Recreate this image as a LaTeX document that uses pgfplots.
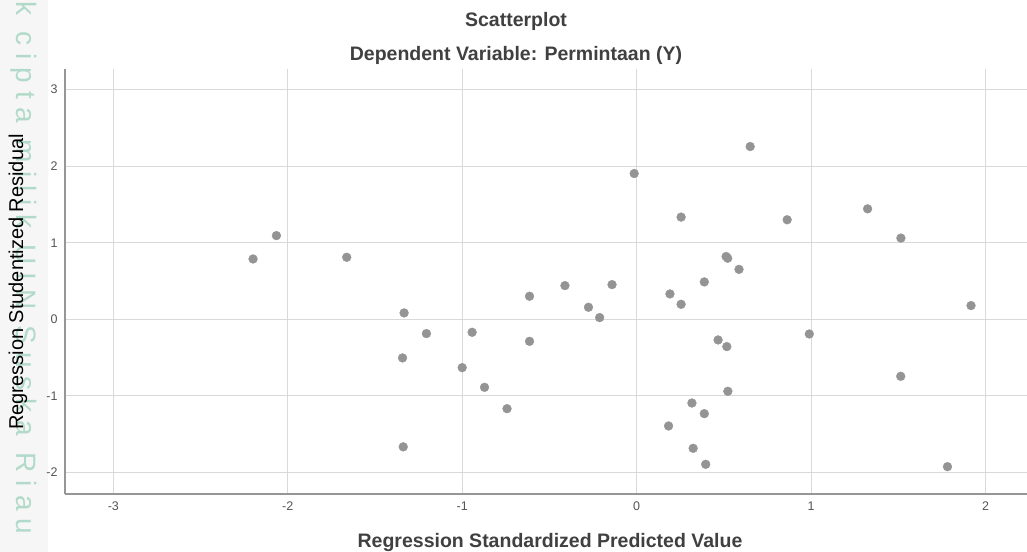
\documentclass[border=0pt]{standalone}
\usepackage{fontspec}
\setmainfont{Liberation Sans}
\newfontfamily\wmfont[LetterSpace=29.5]{Liberation Sans}
\usepackage{pgfplots}
\usepackage{pgfplotstable}
\pgfplotsset{compat=1.18}
\definecolor{gridc}{RGB}{217,217,217}
\definecolor{axc}{RGB}{150,150,150}
\definecolor{ptc}{RGB}{148,148,148}
\definecolor{titc}{RGB}{64,64,64}
\definecolor{tickc}{RGB}{85,85,85}
\definecolor{wmc}{RGB}{178,218,202}
\definecolor{stripc}{RGB}{246,246,246}

\pgfplotstableread{
x y
-2.199 0.788
-2.065 1.093
-1.662 0.810
-1.333 0.083
-1.205 -0.187
-0.943 -0.170
-1.342 -0.505
-1.000 -0.632
-0.872 -0.889
-1.338 -1.667
-0.743 -1.168
-0.614 0.301
-0.411 0.440
-0.141 0.453
-0.276 0.157
-0.212 0.022
-0.614 -0.288
-0.014 1.904
0.651 2.257
0.255 1.335
0.863 1.300
1.324 1.443
1.515 1.061
0.513 0.820
0.522 0.798
0.587 0.652
0.388 0.488
0.191 0.331
0.255 0.196
1.917 0.179
0.990 -0.192
0.467 -0.270
0.517 -0.357
1.514 -0.745
0.523 -0.941
0.317 -1.094
0.388 -1.233
0.183 -1.394
0.324 -1.686
0.396 -1.895
1.782 -1.926
}\datatab

\begin{document}
\begin{tikzpicture}[x=1bp,y=1bp]
\path[use as bounding box] (0,0) rectangle (1027,-552);
\fill[white] (0,0) rectangle (1027,-552);
\fill[stripc] (0,0) rectangle (48,-552);
\node[text=wmc, rotate=-90, anchor=west, inner sep=0pt,
      font=\wmfont\fontsize{28bp}{30bp}\selectfont] at (24,-1) {k cipta milik UIN Suska Riau};
\begin{axis}[
  at={(65bp,-494bp)}, anchor=south west,
  scale only axis, width=962bp, height=425bp,
  xmin=-3.277, xmax=2.238, ymin=-2.283, ymax=3.27,
  xtick={-3,-2,-1,0,1,2}, ytick={-2,-1,0,1,2,3},
  grid=major, major grid style={draw=gridc, line width=1bp},
  axis x line*=bottom, axis y line*=left,
  axis line style={draw=axc, line width=1.2bp, -},
  major tick length=0pt,
  tick label style={font=\fontsize{12.5bp}{14bp}\selectfont, text=tickc},
  xticklabel style={yshift=-4bp}, yticklabel style={xshift=-4bp},
  /pgf/number format/assume math mode=true,
]
\addplot[only marks, mark=*, mark size=4.4bp, color=ptc, mark options={draw=ptc, fill=ptc}] table[x=x,y=y]{\datatab};
\end{axis}
\node[anchor=base, text=titc, font=\bfseries\fontsize{19.5bp}{22bp}\selectfont] at (516,-26.7) {Scatterplot};
\node[anchor=base, text=titc, font=\bfseries\fontsize{19.5bp}{22bp}\selectfont] at (516,-60.7) {Dependent Variable: Permintaan (Y)};
\node[anchor=base, text=titc, font=\bfseries\fontsize{19.5bp}{22bp}\selectfont] at (550,-547) {Regression Standardized Predicted Value};
\node[rotate=90, text=black, font=\fontsize{20bp}{22bp}\selectfont] at (18,-282) {Regression Studentized Residual};
\end{tikzpicture}
\end{document}
